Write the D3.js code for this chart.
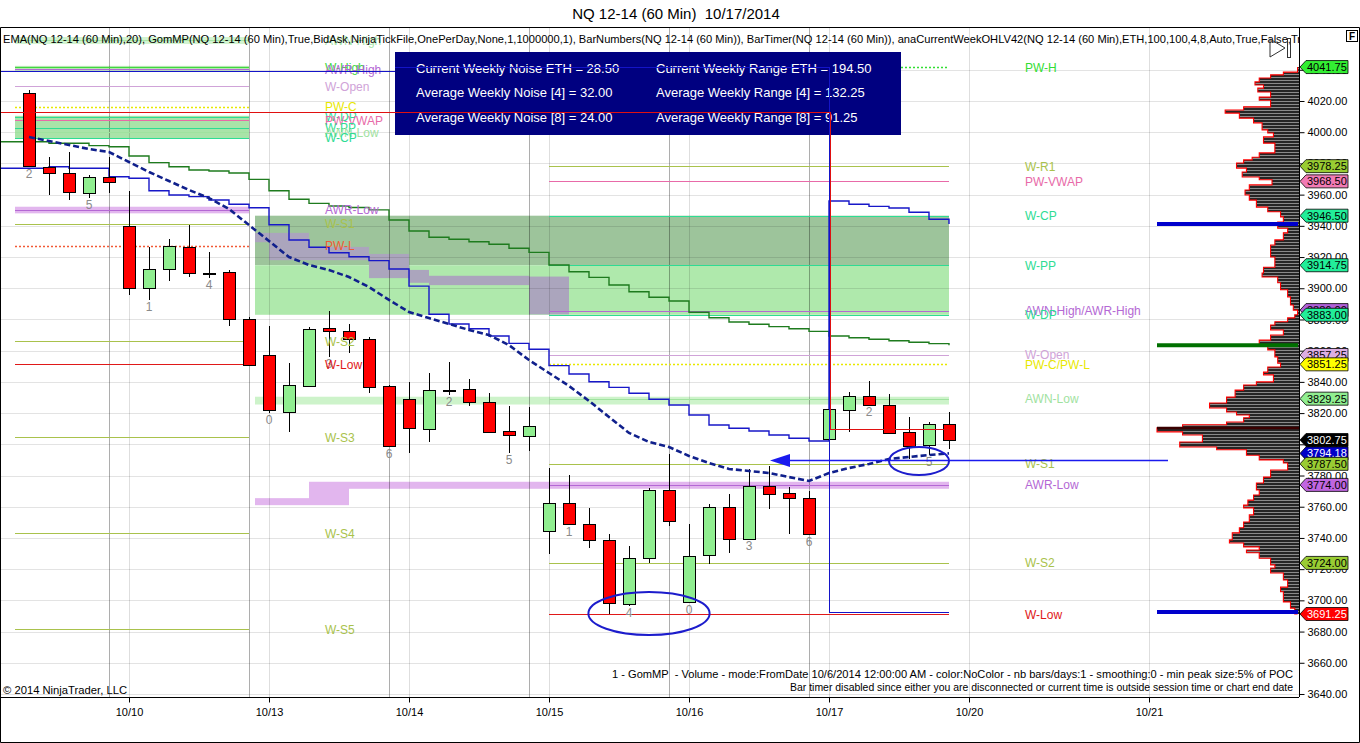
<!DOCTYPE html>
<html>
<head>
<meta charset="utf-8">
<script src="https://cdn.jsdelivr.net/npm/d3@7"></script>
<style>
html, body { margin: 0; padding: 0; background: #fff; }
text { font-family: "Liberation Sans", Arial, sans-serif; }
</style>
</head>
<body>
<div id="chart"></div>
<script>
// NQ 12-14 (60 Min) bars, left to right
var barOpen  = [4025.25,3977.5,3973.75,3961.5,3971.5,3940.0,3900.0,3912.25,3926.25,3910.0,3910.25,3880.25,3857.0,3821.0,3837.75,3874.5,3872.5,3867.25,3837.5,3828.75,3809.5,3834.75,3835.25,3827.0,3808.25,3805.0,3744.5,3762.25,3748.75,3738.5,3697.5,3726.75,3770.5,3698.75,3729.5,3760.0,3739.75,3773.5,3768.5,3765.5,3803.25,3822.5,3831.25,3825.5,3807.75,3799.0,3812.75];
var barHigh  = [4027.0,3984.0,3987.5,3972.5,3984.0,3962.5,3926.25,3931.5,3940.5,3923.0,3911.75,3881.75,3875.5,3852.0,3875.0,3885.5,3877.0,3868.5,3838.0,3840.0,3846.0,3852.5,3841.75,3832.75,3824.5,3824.0,3785.0,3780.25,3759.5,3742.5,3734.75,3771.75,3793.5,3749.0,3761.75,3768.0,3784.25,3786.0,3772.5,3770.0,3822.75,3833.25,3840.5,3832.25,3817.25,3814.0,3820.5];
var barLow   = [3977.75,3959.75,3956.5,3957.75,3961.0,3896.0,3892.5,3904.75,3907.0,3906.5,3876.0,3850.5,3820.25,3808.0,3837.0,3856.0,3858.25,3832.75,3798.0,3794.25,3801.75,3831.5,3824.75,3807.5,3794.25,3796.0,3729.75,3748.5,3733.75,3691.25,3696.5,3723.75,3747.75,3698.5,3723.25,3730.5,3739.5,3758.5,3742.25,3742.0,3803.0,3807.75,3825.0,3806.5,3790.5,3793.25,3796.75];
var barClose = [3978.25,3973.75,3961.5,3971.5,3968.0,3900.0,3912.25,3927.0,3909.5,3910.0,3880.0,3850.5,3821.5,3838.0,3874.0,3872.75,3867.25,3836.5,3799.0,3810.0,3834.5,3834.75,3827.0,3807.75,3805.75,3811.5,3762.25,3748.75,3738.5,3698.0,3727.0,3770.5,3750.5,3728.5,3760.0,3739.75,3773.5,3768.5,3765.5,3742.25,3822.5,3831.25,3825.5,3807.75,3799.0,3812.75,3802.75];

var barNumIdx  = [0,3,6,9,12,15,18,21,24,27,30,33,36,39,42,45];
var barNumText = ["2","5","1","4","0","3","6","2","5","1","4","0","3","6","2","5"];

var ema20 = [3996.9,3994.4,3991.8,3989.2,3987.3,3980.9,3974.5,3968.7,3963.0,3957.8,3950.8,3940.5,3930.3,3920.0,3914.9,3911.7,3907.2,3900.8,3892.5,3884.8,3880.9,3877.1,3873.3,3870.0,3863.6,3854.0,3845.7,3837.4,3827.8,3817.5,3807.3,3801.5,3798.3,3792.5,3788.0,3784.2,3782.9,3781.6,3779.0,3776.5,3781.6,3784.8,3787.4,3790.6,3791.9,3793.1,3794.18];
var upperStep = [3993.9,3992.9,3992.9,3991.4,3990.7,3984.8,3980.5,3977.9,3975.8,3975.1,3973.9,3969.8,3962.5,3957.0,3954.4,3952.7,3951.8,3950.2,3943.7,3936.7,3932.7,3931.4,3929.8,3928.2,3925.6,3923.0,3914.9,3910.6,3907.0,3902.1,3897.8,3894.2,3891.8,3884.6,3881.1,3878.4,3876.9,3875.4,3874.1,3872.4,3869.4,3868.3,3867.3,3866.4,3865.4,3864.5,3863.4];
var lowerStep = [3976.9,3977.9,3976.9,3976.9,3971.5,3970.5,3962.5,3959.8,3958.7,3956.6,3953.8,3951.6,3940.7,3930.9,3926.3,3922.8,3920.2,3917.7,3912.3,3901.4,3883.3,3877.1,3874.1,3869.4,3864.7,3860.9,3850.4,3845.1,3840.1,3836.5,3832.7,3828.9,3825.2,3818.8,3812.4,3810.3,3808.5,3806.0,3803.9,3802.1,3955.9,3953.8,3952.5,3951.4,3948.7,3944.2,3941.2];

var dateIdx    = [5,12,19,26,33,40,47,56];
var dateLabels = ["10/10","10/13","10/14","10/15","10/16","10/17","10/20","10/21"];
var sessionIdx = [4,11,18,25,32,39];
var priceTicks = [3640,3660,3680,3700,3720,3740,3760,3780,3800,3820,3840,3860,3880,3900,3920,3940,3960,3980,4000,4020,4040];

// previous week levels
var prevNames  = ["AWN-High","W-High","AWR-High","W-Open","PW-C","W-DP","PW-VWAP","W-PP","AWN-Low","W-CP","AWR-Low","W-S1","PW-L","W-S2","W-Low","W-S3","W-S4","W-S5"];
var prevValues = [4059.0,4041.75,4040.25,4029.5,4016.25,4010.0,4007.75,4003.0,4000.0,3996.5,3950.25,3941.25,3927.25,3866.0,3851.25,3804.5,3743.0,3681.5];
var prevBandNames = ["AWN-High","W-High","W-DP/W-CP","AWR-Low"];
var prevBandTop   = [4061.0,4042.5,4010.5,3952.25];
var prevBandBot   = [4056.5,4039.5,3996.0,3948.0];

// current week levels
var curNames  = ["PW-H","W-R1","PW-VWAP","W-CP","W-PP","AWN-High/AWR-High","W-DP","W-Open","PW-C/PW-L","AWN-Low","W-S1","AWR-Low","W-S2","W-Low"];
var curValues = [4041.75,3978.25,3968.5,3946.5,3914.75,3885.5,3883.0,3857.25,3851.25,3829.25,3787.5,3774.0,3724.0,3691.25];
var curBandNames = ["W-CP/W-PP","W-PP/W-DP","AWN-Low"];
var curBandTop   = [3946.5,3914.75,3830.5];
var curBandBot   = [3914.75,3883.0,3825.5];

var awrHighFrom = [11.3,12,14,17,19,20,25];
var awrHighTo   = [12,14,17,19,20,25,27];
var awrHighTop  = [3935.5,3935.5,3926.5,3922.0,3911.75,3908.0,3907.5];
var awrHighBot  = [3929.5,3918.0,3918.0,3906.5,3903.5,3902.0,3883.25];
var awrLowFrom = [11.3,14,16];
var awrLowTo   = [14,16,46];
var awrLowTop  = [3765.5,3776.0,3776.0];
var awrLowBot  = [3761.0,3761.0,3771.5];

// price markers on the axis
var tagNames  = ["PW-H","W-R1","PW-VWAP","W-CP","W-PP","AWR-High","W-DP","W-Open","PW-C","AWN-Low","Last","EMA","W-S1","AWR-Low","W-S2","W-Low"];
var tagValues = [4041.75,3978.25,3968.5,3946.5,3914.75,3886.0,3883.0,3857.25,3851.25,3829.25,3802.75,3794.18,3787.5,3774.0,3724.0,3691.25];

// GomMP volume profile, % of POC
var profilePrice = [4041.75,4038.5,4036.75,4034.75,4032.25,4030.25,4028.25,4025.75,4022.5,4020.5,4016.25,4014.25,4012.25,4009.0,4006.0,4001.5,3999.5,3997.0,3993.0,3986.75,3984.0,3982.25,3980.25,3977.0,3974.5,3971.25,3969.5,3966.25,3963.0,3959.75,3956.5,3952.0,3949.0,3945.75,3942.5,3938.5,3935.5,3931.0,3927.75,3924.5,3920.0,3913.5,3909.75,3907.25,3903.5,3899.0,3894.5,3889.25,3886.0,3883.0,3881.0,3878.5,3876.5,3873.25,3870.0,3866.75,3863.5,3860.5,3856.0,3852.0,3849.5,3846.25,3844.5,3840.0,3838.0,3834.75,3830.25,3826.5,3823.25,3820.75,3818.75,3817.0,3814.25,3812.5,3810.5,3808.0,3806.0,3801.5,3798.25,3796.5,3793.0,3790.0,3788.0,3783.5,3779.0,3775.25,3770.75,3767.5,3764.25,3761.0,3759.25,3754.75,3750.25,3746.5,3743.25,3738.75,3736.75,3734.25,3732.25,3730.5,3727.0,3722.75,3720.75,3717.5,3713.0,3708.5,3705.5,3702.25,3699.0,3695.0,3691.25];
var profileVol = [1,11,20,28,31,25,29,20,28,20,39,52,42,32,26,22,18,25,17,28,33,39,44,37,40,28,19,35,38,35,30,22,13,11,15,8,11,17,20,20,17,25,26,15,13,8,6,4,1,3,8,17,20,11,20,28,22,17,15,13,22,25,18,30,39,45,51,63,51,44,35,39,51,82,100,82,68,84,58,37,28,11,8,20,25,30,28,32,36,39,32,35,39,42,47,49,39,28,37,28,20,17,20,11,8,13,11,11,6,3,1];
var pocPrice = 3810.5;

// drawn objects
var redLine  = [4013.0, 3809.75];          // top, bottom
var blueLine = [4039.0, 4042.0, 3692.5];   // left part, over box, bottom
var drawnBreakIdx = 40;
var arrowIdx = [56.95, 37.05]; var arrowPrice = 3789.6;
var ellipseIdx = [31.0, 44.5], ellipsePrice = [3691.6, 3789.3];
var ellipseRx = [3.03, 1.5], ellipseRy = [13.8, 9.0];

var noiseLeft  = ["Current Weekly Noise ETH = 28.50","Average Weekly Noise [4] = 32.00","Average Weekly Noise [8] = 24.00"];
var noiseRight = ["Current Weekly Range ETH = 194.50","Average Weekly Range [4] = 132.25","Average Weekly Range [8] = 91.25"];

var titleText  = "NQ 12-14 (60 Min)  10/17/2014";
var legendText = "EMA(NQ 12-14 (60 Min),20), GomMP(NQ 12-14 (60 Min),True,BidAsk,NinjaTickFile,OnePerDay,None,1,1000000,1), BarNumbers(NQ 12-14 (60 Min)), BarTimer(NQ 12-14 (60 Min)), anaCurrentWeekOHLV42(NQ 12-14 (60 Min),ETH,100,100,4,8,Auto,True,False,Tr";
var footer1 = "1 - GomMP  - Volume - mode:FromDate 10/6/2014 12:00:00 AM - color:NoColor - nb bars/days:1 - smoothing:0 - min peak size:5% of POC";
var footer2 = "Bar timer disabled since either you are disconnected or current time is outside session time or chart end date";

// styles
var olive = "#a9c24c", teal = "#2edc94", purple = "#b468d4";
var levelStyle = {
  "AWN-High": {c: "#a8e6a8"}, "W-High": {c: "#3fd83f"}, "AWR-High": {c: purple},
  "W-Open": {c: "#d0a3d8"}, "PW-C": {c: "#e8e800", dash: "2,2"}, "W-DP": {c: teal},
  "PW-VWAP": {c: "#e86aa8"}, "W-PP": {c: teal}, "AWN-Low": {c: "#9fe29f"}, "W-CP": {c: teal},
  "AWR-Low": {c: purple}, "W-S1": {c: olive}, "W-S2": {c: olive}, "W-S3": {c: olive},
  "W-S4": {c: olive}, "W-S5": {c: olive}, "W-R1": {c: olive},
  "PW-L": {c: "#f25a36", dash: "2,2"}, "W-Low": {c: "#e01818"},
  "PW-H": {c: "#33dd33", dash: "2,2"}, "AWN-High/AWR-High": {c: purple},
  "PW-C/PW-L": {c: "#e8e800", dash: "2,2"}
};
var bandFill = {
  "AWN-High": "#d2f4d0", "W-High": "#b4e8b0", "W-DP/W-CP": "#a9e3a8", "AWR-Low": "#e2b6ee",
  "W-CP/W-PP": "#9dc49b", "W-PP/W-DP": "#afe9ac", "AWN-Low": "#cdf3ca"
};
var tagStyle = {
  "PW-H": ["#33ee33","#000"], "W-R1": ["#99cc33","#000"], "PW-VWAP": ["#f27ab4","#000"],
  "W-CP": ["#22ee99","#000"], "W-PP": ["#22ee99","#000"], "AWR-High": ["#b060d8","#000"],
  "W-DP": ["#22ee99","#000"], "W-Open": ["#dcaee4","#000"], "PW-C": ["#ffff00","#000"],
  "AWN-Low": ["#90ee90","#000"], "Last": ["#000000","#fff"], "EMA": ["#0000c8","#fff"],
  "W-S1": ["#99cc33","#000"], "AWR-Low": ["#c066e0","#000"], "W-S2": ["#99cc33","#000"],
  "W-Low": ["#ff0000","#fff"]
};

var W = 1360, H = 743;
var plotRight = 1299, plotTop = 28, plotBottom = 697;
var prevSpan = [-0.7, 11], curLineSpan = [26, 46], curBandSpan = [11.3, 46];

var x = d3.scaleLinear().domain([-1.45, 63.5]).range([0, plotRight]);
var y = d3.scaleLinear().domain([3638.07, 4066.78]).range([plotBottom, plotTop]);
var vx = d3.scaleLinear().domain([0, 100]).range([plotRight, 1157]);

var svg = d3.select("#chart").append("svg")
  .attr("width", W).attr("height", H).style("display", "block");
svg.append("rect").attr("width", W).attr("height", H).attr("fill", "#fff");

var defs = svg.append("defs");
defs.append("clipPath").attr("id", "plotClip").append("rect")
  .attr("x", 0).attr("y", plotTop).attr("width", plotRight).attr("height", plotBottom - plotTop);
var pat = defs.append("pattern").attr("id", "profFill")
  .attr("patternUnits", "userSpaceOnUse").attr("width", 8).attr("height", 3);
pat.append("rect").attr("width", 8).attr("height", 3).attr("fill", "#8a8a8a");
pat.append("rect").attr("width", 8).attr("height", 2).attr("fill", "#262626");

var plot = svg.append("g").attr("clip-path", "url(#plotClip)");

// bands
function drawBands(g, names, tops, bots, span) {
  g.selectAll(null).data(names).enter().append("rect")
    .attr("x", x(span[0])).attr("width", x(span[1]) - x(span[0]))
    .attr("y", function(d, i) { return y(tops[i]); })
    .attr("height", function(d, i) { return y(bots[i]) - y(tops[i]); })
    .attr("fill", function(d) { return bandFill[d]; });
}
drawBands(plot, prevBandNames, prevBandTop, prevBandBot, prevSpan);
drawBands(plot, curBandNames, curBandTop, curBandBot, curBandSpan);

plot.selectAll(null).data(awrLowFrom).enter().append("rect")
  .attr("x", function(d) { return x(d); })
  .attr("width", function(d, i) { return x(awrLowTo[i]) - x(d); })
  .attr("y", function(d, i) { return y(awrLowTop[i]); })
  .attr("height", function(d, i) { return y(awrLowBot[i]) - y(awrLowTop[i]); })
  .attr("fill", "#e2b6ee");
plot.selectAll(null).data(awrHighFrom).enter().append("rect")
  .attr("x", function(d) { return x(d); })
  .attr("width", function(d, i) { return x(awrHighTo[i]) - x(d); })
  .attr("y", function(d, i) { return y(awrHighTop[i]); })
  .attr("height", function(d, i) { return y(awrHighBot[i]) - y(awrHighTop[i]); })
  .attr("fill", "#aba5bd");

// grid
var grid = plot.append("g").attr("shape-rendering", "crispEdges");
grid.selectAll(null).data(priceTicks).enter().append("line")
  .attr("x1", 0).attr("x2", plotRight)
  .attr("y1", function(d) { return Math.round(y(d)) + 0.5; })
  .attr("y2", function(d) { return Math.round(y(d)) + 0.5; })
  .attr("stroke", "rgba(0,0,0,0.11)");
grid.selectAll(null).data(dateIdx).enter().append("line")
  .attr("x1", function(d) { return x(d) + 0.5; }).attr("x2", function(d) { return x(d) + 0.5; })
  .attr("y1", plotTop).attr("y2", plotBottom)
  .attr("stroke", "rgba(0,0,0,0.13)");
grid.selectAll(null).data(sessionIdx).enter().append("line")
  .attr("x1", function(d) { return x(d) + 0.5; }).attr("x2", function(d) { return x(d) + 0.5; })
  .attr("y1", plotTop).attr("y2", plotBottom)
  .attr("stroke", "rgba(0,0,0,0.32)");

// level lines
function drawLevels(g, names, values, span) {
  g.selectAll(null).data(names).enter().append("line")
    .attr("x1", x(span[0])).attr("x2", x(span[1]))
    .attr("y1", function(d, i) { return Math.round(y(values[i])) + 0.5; })
    .attr("y2", function(d, i) { return Math.round(y(values[i])) + 0.5; })
    .attr("stroke", function(d) { return levelStyle[d].c; })
    .attr("stroke-width", function(d) { return levelStyle[d].dash ? 1.5 : 1; })
    .attr("stroke-dasharray", function(d) { return levelStyle[d].dash || null; });
}
drawLevels(plot, prevNames, prevValues, prevSpan);
drawLevels(plot, curNames, curValues, curLineSpan);

// step lines
var idx = d3.range(barOpen.length);
var stepLine = d3.line().curve(d3.curveStepAfter)
  .x(function(d) { return d.i < 0 ? 0 : x(d.i); }).y(function(d) { return y(d.v); });
function withLead(series) {
  var pts = [{i: -1.45, v: series[0]}];
  return pts.concat(series.map(function(v, i) { return {i: i, v: v}; }));
}
plot.append("path").datum(withLead(upperStep)).attr("d", stepLine)
  .attr("fill", "none").attr("stroke", "#1e7b1e").attr("stroke-width", 1.4);
plot.append("path").datum(withLead(lowerStep)).attr("d", stepLine)
  .attr("fill", "none").attr("stroke", "#1717c8").attr("stroke-width", 1.4);

// volume profile
var prof = profilePrice.map(function(p, i) { return {p: p, v: profileVol[i]}; });
var profArea = d3.area().curve(d3.curveStepBefore)
  .y(function(d) { return y(d.p); }).x0(plotRight).x1(function(d) { return vx(d.v); });
var profEdge = d3.line().curve(d3.curveStepBefore)
  .y(function(d) { return y(d.p); }).x(function(d) { return vx(d.v); });
plot.append("path").datum(prof).attr("d", profArea).attr("fill", "url(#profFill)");
plot.append("path").datum(prof).attr("d", profEdge)
  .attr("fill", "none").attr("stroke", "#ff0000").attr("stroke-width", 1.1);
plot.append("line").attr("x1", vx(100)).attr("x2", plotRight)
  .attr("y1", y(pocPrice)).attr("y2", y(pocPrice))
  .attr("stroke", "#3a0000").attr("stroke-width", 2.5);

// candles
var bars = idx.map(function(i) {
  return {i: i, o: barOpen[i], h: barHigh[i], l: barLow[i], c: barClose[i]};
});
var cg = plot.append("g").attr("shape-rendering", "crispEdges");
cg.selectAll(null).data(bars).enter().append("line")
  .attr("x1", function(d) { return x(d.i) + 0.5; }).attr("x2", function(d) { return x(d.i) + 0.5; })
  .attr("y1", function(d) { return y(d.h); }).attr("y2", function(d) { return y(d.l); })
  .attr("stroke", "#000");
cg.selectAll(null).data(bars).enter().append("rect")
  .attr("x", function(d) { return x(d.i) - 6 + 0.5; })
  .attr("width", 12)
  .attr("y", function(d) { return Math.round(y(Math.max(d.o, d.c))) + 0.5; })
  .attr("height", function(d) { return Math.max(1, Math.round(Math.abs(y(d.o) - y(d.c)))); })
  .attr("fill", function(d) { return d.c > d.o ? "#90ee90" : (d.c < d.o ? "#ff0000" : "#000"); })
  .attr("stroke", "#000");

// EMA
plot.append("path").datum(ema20)
  .attr("d", d3.line().x(function(d, i) { return x(i); }).y(function(d) { return y(d); }))
  .attr("fill", "none").attr("stroke", "#10208c").attr("stroke-width", 2.6)
  .attr("stroke-dasharray", "6,3");

// bar numbers
plot.selectAll(null).data(barNumIdx).enter().append("text")
  .attr("x", function(d) { return x(d); })
  .attr("y", function(d) { return y(barLow[d]) + 11; })
  .attr("text-anchor", "middle").attr("font-size", 12).attr("fill", "#8a8a8a")
  .text(function(d, i) { return barNumText[i]; });

// level labels
function drawLabels(g, names, values, endIdx) {
  g.selectAll(null).data(names).enter().append("text")
    .attr("x", x(endIdx) + 76)
    .attr("y", function(d, i) { return y(values[i]) + 4.5; })
    .attr("font-size", 12)
    .attr("fill", function(d) { return levelStyle[d].c; })
    .text(function(d) { return d; });
}
drawLabels(plot, prevNames, prevValues, prevSpan[1]);
drawLabels(plot, curNames, curValues, curLineSpan[1]);

// drawn line under the info box
plot.append("line").attr("x1", 0).attr("x2", x(drawnBreakIdx))
  .attr("y1", Math.round(y(blueLine[0])) + 0.5).attr("y2", Math.round(y(blueLine[0])) + 0.5)
  .attr("stroke", "#1414c8").attr("stroke-width", 1);

// info box
var boxX = 395, boxY = 52, boxW = 506, boxH = 83;
var box = svg.append("g");
box.append("rect").attr("x", boxX).attr("y", boxY).attr("width", boxW).attr("height", boxH)
  .attr("fill", "#000080");
box.selectAll(null).data(noiseLeft).enter().append("text")
  .attr("x", 416).attr("y", function(d, i) { return 73 + i * 24.3; })
  .attr("font-size", 13).attr("fill", "#fff").text(function(d) { return d; });
box.selectAll(null).data(noiseRight).enter().append("text")
  .attr("x", 656).attr("y", function(d, i) { return 73 + i * 24.3; })
  .attr("font-size", 13).attr("fill", "#fff").text(function(d) { return d; });

// drawn lines over the box
var over = svg.append("g").attr("clip-path", "url(#plotClip)");
var crisp = over.append("g").attr("shape-rendering", "crispEdges");
var bx = x(drawnBreakIdx) + 0.5;
function py(v) { return Math.round(y(v)) + 0.5; }
crisp.append("path")
  .attr("d", "M" + boxX + "," + py(blueLine[1]) + "H" + bx + "V" + py(blueLine[2]) + "H" + x(46))
  .attr("fill", "none").attr("stroke", "#1414c8").attr("stroke-width", 1);
crisp.append("path")
  .attr("d", "M0," + py(redLine[0]) + "H" + (bx + 1) + "V" + py(redLine[1]) + "H" + x(46))
  .attr("fill", "none").attr("stroke", "#e01010").attr("stroke-width", 1);

// arrow
over.append("line").attr("x1", x(arrowIdx[0])).attr("x2", x(arrowIdx[1]) + 18)
  .attr("y1", y(arrowPrice)).attr("y2", y(arrowPrice))
  .attr("stroke", "#1a1aee").attr("stroke-width", 1.4);
over.append("path")
  .attr("d", "M" + x(arrowIdx[1]) + "," + y(arrowPrice) + "L" + (x(arrowIdx[1]) + 20) + "," + (y(arrowPrice) - 6.5) +
             "L" + (x(arrowIdx[1]) + 20) + "," + (y(arrowPrice) + 6.5) + "Z")
  .attr("fill", "#1a1aee");

// ellipses
over.selectAll(null).data(ellipseIdx).enter().append("ellipse")
  .attr("cx", function(d) { return x(d); })
  .attr("cy", function(d, i) { return y(ellipsePrice[i]); })
  .attr("rx", function(d, i) { return x(d + ellipseRx[i]) - x(d); })
  .attr("ry", function(d, i) { return y(ellipsePrice[i] - ellipseRy[i]) - y(ellipsePrice[i]); })
  .attr("fill", "none").attr("stroke", "#1c1ccc").attr("stroke-width", 2);

// projections of current values into the right margin
var proj = [
  {v: lowerStep[lowerStep.length - 1], c: "#0000cc"},
  {v: upperStep[upperStep.length - 1], c: "#007000"},
  {v: blueLine[2], c: "#0000cc"}
];
over.selectAll(null).data(proj).enter().append("line")
  .attr("x1", vx(100)).attr("x2", plotRight - 1)
  .attr("y1", function(d) { return y(d.v); }).attr("y2", function(d) { return y(d.v); })
  .attr("stroke", function(d) { return d.c; }).attr("stroke-width", 4);

// legend line
svg.append("g").attr("clip-path", "url(#plotClip)").append("text")
  .attr("x", 3).attr("y", 43).attr("font-size", 11.5).attr("fill", "#000")
  .attr("textLength", 1298).attr("lengthAdjust", "spacingAndGlyphs")
  .text(legendText);

// chart-trader icons
svg.append("path").attr("d", "M1270,39L1285,48L1270,57Z").attr("fill", "none").attr("stroke", "#333");
svg.append("rect").attr("x", 1287.5).attr("y", 38.5).attr("width", 3).attr("height", 19)
  .attr("fill", "none").attr("stroke", "#333");
svg.append("rect").attr("x", 1346.5).attr("y", 30.5).attr("width", 11).attr("height", 11)
  .attr("fill", "#fff").attr("stroke", "#000");
svg.append("text").attr("x", 1352).attr("y", 40).attr("text-anchor", "middle")
  .attr("font-size", 10).attr("font-weight", "bold").text("F");

// axes
var yAxis = d3.axisRight(y).tickValues(priceTicks).tickFormat(d3.format(".2f"))
  .tickSize(5).tickSizeOuter(0);
var ya = svg.append("g").attr("transform", "translate(" + (plotRight + 0.5) + ",0)").call(yAxis);
ya.selectAll("text").attr("font-size", 11).attr("font-family", "Liberation Sans, Arial, sans-serif").attr("fill", "#000");
ya.select(".domain").attr("d", "M0," + plotTop + "V" + plotBottom);

var xAxis = d3.axisBottom(x).tickValues(dateIdx).tickFormat(function(d, i) { return dateLabels[i]; })
  .tickSize(5).tickSizeOuter(0).tickPadding(6);
var xa = svg.append("g").attr("transform", "translate(0," + (plotBottom + 0.5) + ")").call(xAxis);
xa.selectAll("text").attr("font-size", 11).attr("font-family", "Liberation Sans, Arial, sans-serif").attr("fill", "#000");
xa.select(".domain").attr("d", "M0,0H" + plotRight);

// axis tags
var tags = svg.append("g");
tagNames.forEach(function(n, i) {
  var yc = y(tagValues[i]);
  var st = tagStyle[n];
  tags.append("path")
    .attr("d", "M" + (plotRight + 1) + "," + yc + "L1306," + (yc - 6.5) + "H1348V" + (yc + 6.5) + "H1306Z")
    .attr("fill", st[0]).attr("stroke", "#000").attr("stroke-width", 0.8);
  tags.append("text").attr("x", 1307).attr("y", yc + 4).attr("font-size", 11)
    .attr("fill", st[1]).text(tagValues[i].toFixed(2));
});

// frame
svg.append("path")
  .attr("d", "M0.5,27.5H1359.5V742.5H0.5Z")
  .attr("fill", "none").attr("stroke", "#000");

// title, footer
svg.append("text").attr("x", 676).attr("y", 19).attr("text-anchor", "middle")
  .attr("font-size", 15).attr("fill", "#000").style("white-space", "pre").text(titleText);
svg.append("text").attr("x", 612).attr("y", 678).attr("font-size", 11)
  .attr("textLength", 681).attr("lengthAdjust", "spacingAndGlyphs").style("white-space", "pre").text(footer1);
svg.append("text").attr("x", 790).attr("y", 691).attr("font-size", 11)
  .attr("textLength", 503).attr("lengthAdjust", "spacingAndGlyphs").text(footer2);
svg.append("text").attr("x", 3).attr("y", 694).attr("font-size", 11)
  .attr("textLength", 124).attr("lengthAdjust", "spacingAndGlyphs").text("\u00a9 2014 NinjaTrader, LLC");
</script>
</body>
</html>
